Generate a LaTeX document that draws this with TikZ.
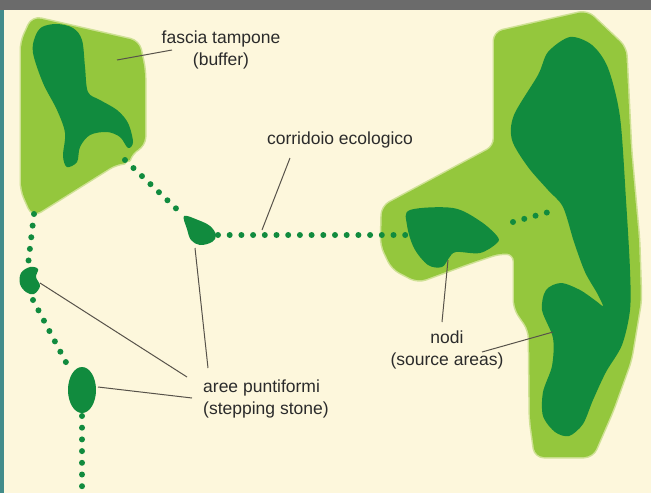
\documentclass[tikz,border=0pt]{standalone}
\usepackage{fontspec}
\setmainfont{Liberation Sans}
\definecolor{creambg}{HTML}{FDF7DC}
\definecolor{topbar}{HTML}{6B6B6B}
\definecolor{edgeteal}{HTML}{428C8A}
\definecolor{lightg}{HTML}{94C73D}
\definecolor{darkg}{HTML}{118B3E}
\definecolor{leader}{HTML}{57524A}
\definecolor{lbltext}{HTML}{2B2B2B}
\tikzset{
  bufferzone/.style={fill=lightg, draw=lightg, line width=2pt, rounded corners=8pt, line join=round},
  bufferhalo/.style={draw=lightg!45!creambg, line width=5pt, rounded corners=8pt, line join=round},
  core/.style={fill=darkg},
  dots/.style={draw=darkg, line width=6pt, line cap=round, dash pattern=on 0pt off 11.7pt},
  leaderline/.style={draw=leader, line width=1pt},
  lbl/.style={font=\fontsize{17.5}{22}\selectfont, text=lbltext, align=center, inner sep=0pt},
}
\newcommand\leftzonepath{(33,18) -- (138,42) -- (144,70) -- (144,145) -- (131,152) -- (128,162) -- (116,163) -- (33,215) -- (22,190) -- (22,42) -- cycle}
\newcommand\rightzonepath{(495,33) -- (587,12) -- (625,48) -- (630,150) -- (638,240) -- (640,300) -- (630,360) -- (612,410) -- (592,456) -- (536,456) -- (531,420) -- (530,330) -- (515,308) -- (515,253) -- (500,252) -- (470,262) -- (418,281) -- (393,268) -- (382,245) -- (383,207) -- (495,147) -- cycle}
\begin{document}
\begin{tikzpicture}[x=1pt,y=-1pt]
\useasboundingbox (0,0) rectangle (651,493);
\fill[creambg] (0,0) rectangle (651,493);
\fill[topbar] (0,0) rectangle (651,10);
\fill[edgeteal] (0,10) rectangle (4,493);

% top-left buffer zone
\path[bufferhalo] \leftzonepath;
\path[bufferzone] \leftzonepath;
\path[core] plot[smooth cycle, tension=0.55] coordinates {
  (35,37) (42,27) (57,24) (73,28) (82,40) (85,67) (88,92) (100,100) (117,110)
  (128,123) (133,142) (128,148) (120,137) (107,132) (90,135) (80,147) (77,162)
  (67,167) (63,156) (65,133) (57,110) (43,83) (33,53)};

% right patch
\path[bufferhalo] \rightzonepath;
\path[bufferzone] \rightzonepath;
\path[core] plot[smooth cycle, tension=0.5] coordinates {
  (570,37) (592,45) (608,68) (620,117) (626,200) (630,270) (630,310) (622,345)
  (606,372) (593,400) (583,424) (569,436) (555,432) (543,416) (543,392) (552,366)
  (553,338) (542,310) (546,290) (561,283) (580,290) (596,301) (603,306) (597,293)
  (585,272) (574,242) (563,207) (548,190) (528,167) (512,140) (514,115) (538,75) (548,52)};
\path[core] plot[smooth cycle, tension=0.55] coordinates {
  (410,210) (453,208) (480,221) (497,236) (497,243) (480,253) (456,252) (449,258)
  (442,267) (428,265) (414,248) (407,225)};

% stepping stones
\path[core] plot[smooth cycle, tension=0.6] coordinates {
  (184,216) (198,220) (210,226) (216,235) (212,242) (200,245) (191,240) (187,229)};
\path[core] plot[smooth cycle, tension=0.6] coordinates {
  (21,273) (30,267) (38,269) (36,277) (40,286) (34,294) (26,292) (20,284)};
\path[core] (82,390) ellipse [x radius=14, y radius=23];

% ecological corridors (dotted)
\coordinate (bufA) at (125,160);
\coordinate (stoneAin) at (184,216);
\coordinate (bufB) at (34,214);
\coordinate (stoneBin) at (28,265);
\coordinate (stoneBout) at (33,300);
\coordinate (stoneCin) at (69,368);
\coordinate (stoneCout) at (82,416);
\coordinate (bottomEnd) at (82,496);
\coordinate (stoneAout) at (218,235);
\coordinate (nodeAin) at (406,235);
\coordinate (nodeAout) at (513,222);
\coordinate (nodeBin) at (556,210);
\draw[dots] (bufA) -- (stoneAin);
\draw[dots] (bufB) -- (stoneBin);
\draw[dots] (stoneBout) -- (stoneCin);
\draw[dots] (stoneCout) -- (bottomEnd);
\draw[dots] (stoneAout) -- (nodeAin);
\draw[dots] (nodeAout) -- (nodeBin);

% labels
\node[lbl] (tbuf) at (221,50) {fascia tampone\\(buffer)};
\node[lbl] (tcor) at (340,140) {corridoio ecologico};
\node[lbl, align=left, anchor=west] (tstep) at (203,399) {aree puntiformi\\(stepping stone)};
\node[lbl] (tnodi) at (447,350) {nodi\\(source areas)};

% leader lines
\coordinate (bufPt) at (117,60);
\coordinate (bufEnd) at (172,50);
\coordinate (corPt) at (262,230);
\coordinate (corEnd) at (290,158);
\coordinate (stAPt) at (195,248);
\coordinate (stAEnd) at (208,368);
\coordinate (stBPt) at (40,283);
\coordinate (stBEnd) at (187,377);
\coordinate (stCPt) at (98,387);
\coordinate (stCEnd) at (192,398);
\coordinate (ndAPt) at (448,260);
\coordinate (ndAEnd) at (442,322);
\coordinate (ndBPt) at (553,332);
\coordinate (ndBEnd) at (482,352);
\draw[leaderline] (bufPt) -- (bufEnd);
\draw[leaderline] (corPt) -- (corEnd);
\draw[leaderline] (stAPt) -- (stAEnd);
\draw[leaderline] (stBPt) -- (stBEnd);
\draw[leaderline] (stCPt) -- (stCEnd);
\draw[leaderline] (ndAPt) -- (ndAEnd);
\draw[leaderline] (ndBPt) -- (ndBEnd);
\end{tikzpicture}
\end{document}
